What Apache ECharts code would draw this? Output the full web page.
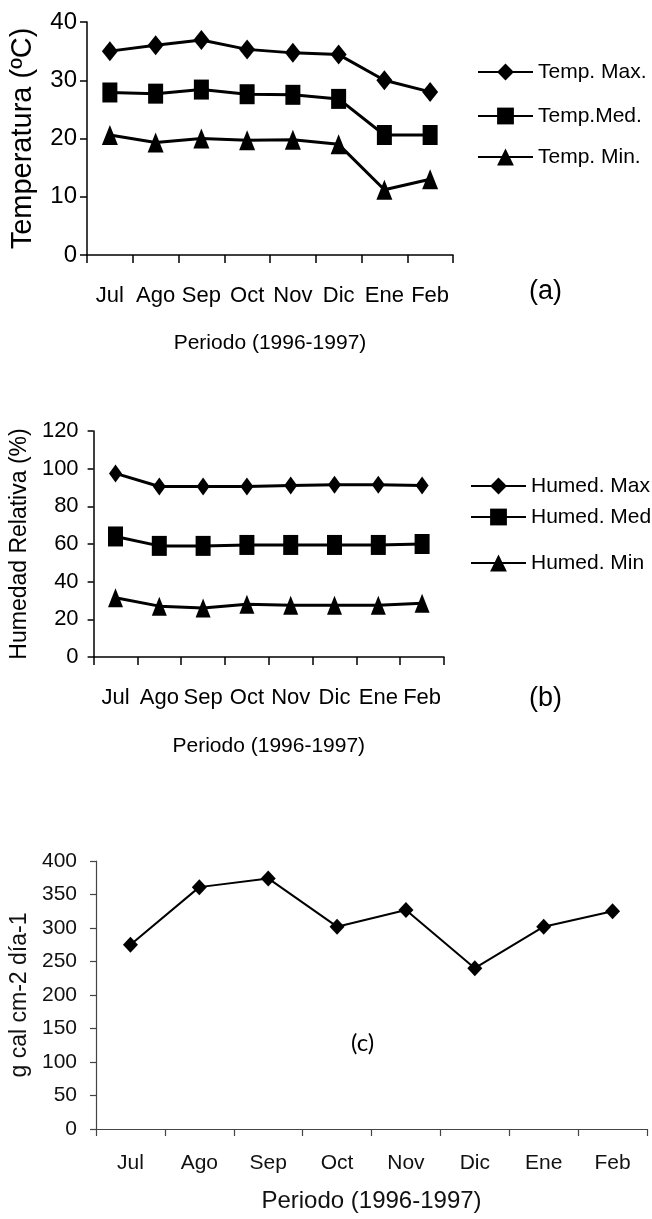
<!DOCTYPE html>
<html><head><meta charset="utf-8">
<script src="https://cdn.jsdelivr.net/npm/echarts@6/dist/echarts.min.js"></script>
<style>html,body{margin:0;padding:0;background:#fff}#c{width:652px;height:1219px}</style>
</head><body><div id="c"></div>
<script>
const months = ['Jul', 'Ago', 'Sep', 'Oct', 'Nov', 'Dic', 'Ene', 'Feb'];
const tempMax = [35, 36, 36.9, 35.3, 34.7, 34.4, 30, 28];
const tempMed = [27.9, 27.7, 28.4, 27.6, 27.5, 26.8, 20.6, 20.6];
const tempMin = [20.6, 19.3, 20, 19.7, 19.8, 19, 11.2, 13];
const humMax = [97.5, 90.5, 90.5, 90.5, 91, 91.5, 91.5, 91];
const humMed = [64, 59, 59, 59.5, 59.5, 59.5, 59.5, 60];
const humMin = [31.5, 27, 26, 28, 27.5, 27.5, 27.5, 28.5];
const radiation = [275, 361, 374, 302, 327, 240, 302, 325];
const tempTicks = { min: 0, max: 40, interval: 10 };
const humTicks = { min: 0, max: 120, interval: 20 };
const radTicks = { min: 0, max: 400, interval: 50 };

const SANS = '"Liberation Sans", Arial, sans-serif';

const chart = echarts.init(document.getElementById('c'), null, { renderer: 'canvas' });

function xAxis(gi, opts) {
  return {
    type: 'category', data: months, gridIndex: gi, boundaryGap: true,
    axisLine: { show: true, lineStyle: { color: opts.color, width: opts.lw } },
    axisTick: { show: true, length: opts.tick, lineStyle: { color: opts.color, width: opts.lw } },
    axisLabel: { interval: 0, margin: opts.margin, color: opts.textColor, fontFamily: SANS, fontSize: opts.fs },
    name: 'Periodo (1996-1997)', nameLocation: 'middle', nameGap: opts.nameGap,
    nameTextStyle: { color: opts.textColor, fontFamily: SANS, fontSize: opts.nameFs },
    splitLine: { show: false }
  };
}
function yAxis(gi, ticks, name, opts) {
  return {
    type: 'value', gridIndex: gi, min: ticks.min, max: ticks.max, interval: ticks.interval,
    axisLine: { show: true, lineStyle: { color: opts.color, width: opts.lw } },
    axisTick: { show: true, length: opts.tick, lineStyle: { color: opts.color, width: opts.lw } },
    axisLabel: { margin: opts.margin, color: opts.textColor, fontFamily: SANS, fontSize: opts.fs },
    splitLine: { show: false },
    name: name, nameLocation: 'middle', nameRotate: 90, nameGap: opts.nameGap,
    nameTextStyle: { color: opts.textColor, fontFamily: SANS, fontSize: opts.nameFs }
  };
}
function lineSeries(name, data, gi, symbol, size, lw) {
  return {
    name: name, type: 'line', xAxisIndex: gi, yAxisIndex: gi, data: data,
    symbol: symbol, symbolSize: size, showSymbol: true,
    lineStyle: { color: '#000', width: lw }, itemStyle: { color: '#000' },
    emphasis: { disabled: true }, animation: false
  };
}
function legendItem(name, left, centerY, fs) {
  const h = 21;
  return {
    data: [name], left: left, top: centerY - h / 2, orient: 'vertical', padding: 0,
    itemWidth: 55, itemHeight: h, selectedMode: false,
    textStyle: { color: '#000', fontFamily: SANS, fontSize: fs }
  };
}

const option = {
  backgroundColor: '#fff',
  animation: false,
  grid: [
    { left: 87, top: 22, width: 366, height: 233 },
    { left: 93, top: 431, width: 351, height: 226 },
    { left: 96, top: 861, width: 551, height: 268 }
  ],
  xAxis: [
    xAxis(0, { color: '#000', lw: 1.5, tick: 8, margin: 30, textColor: '#000', fs: 22, nameGap: 78, nameFs: 21 }),
    xAxis(1, { color: '#000', lw: 1.5, tick: 8, margin: 30, textColor: '#000', fs: 22, nameGap: 79, nameFs: 21 }),
    xAxis(2, { color: '#444', lw: 1.2, tick: 7, margin: 24, textColor: '#111', fs: 21, nameGap: 60, nameFs: 24 })
  ],
  yAxis: [
    yAxis(0, tempTicks, 'Temperatura (ºC)', { color: '#000', lw: 1.5, tick: 7, margin: 10, textColor: '#000', fs: 24, nameGap: 50, nameFs: 29 }),
    yAxis(1, humTicks, 'Humedad Relativa (%)', { color: '#000', lw: 1.5, tick: 6, margin: 15, textColor: '#000', fs: 22, nameGap: 52, nameFs: 23 }),
    yAxis(2, radTicks, 'g cal cm-2 día-1', { color: '#444', lw: 1.2, tick: 6, margin: 19, textColor: '#111', fs: 21, nameGap: 60, nameFs: 23 })
  ],
  legend: [
    legendItem('Temp. Max.', 477, 72, 21),
    legendItem('Temp.Med.', 477, 116, 21),
    legendItem('Temp. Min.', 477, 157, 21),
    legendItem('Humed. Max', 470, 486, 21),
    legendItem('Humed. Med', 470, 517, 21),
    legendItem('Humed. Min', 470, 563, 21)
  ],
  series: [
    lineSeries('Temp. Max.', tempMax, 0, 'diamond', [16, 20], 3),
    lineSeries('Temp.Med.', tempMed, 0, 'rect', [15, 20], 3),
    lineSeries('Temp. Min.', tempMin, 0, 'triangle', [16, 20], 3),
    lineSeries('Humed. Max', humMax, 1, 'diamond', [13, 18], 3),
    lineSeries('Humed. Med', humMed, 1, 'rect', [15, 20], 3),
    lineSeries('Humed. Min', humMin, 1, 'triangle', [15, 19], 3),
    lineSeries('Radiación', radiation, 2, 'diamond', [15, 16], 2)
  ],
  graphic: [
    { type: 'text', left: 529, top: 278, style: { text: '(a)', fill: '#000', fontSize: 27, fontFamily: SANS } },
    { type: 'text', left: 529, top: 685, style: { text: '(b)', fill: '#000', fontSize: 27, fontFamily: SANS } },
    { type: 'text', left: 351, top: 1031, style: { text: '(c)', fill: '#000', fontSize: 24, fontFamily: 'Lato, "Open Sans", sans-serif' } }
  ]
};
chart.setOption(option);
</script>
</body></html>
